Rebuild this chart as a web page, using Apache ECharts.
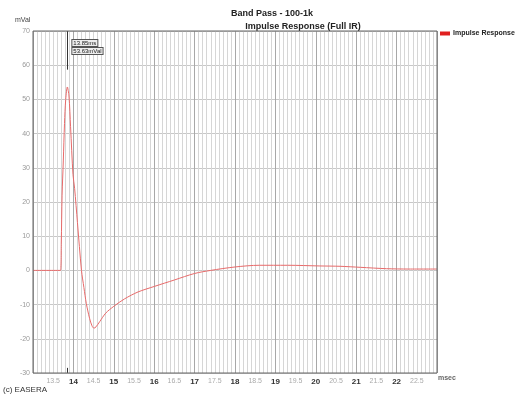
<!DOCTYPE html>
<html><head><meta charset="utf-8">
<script src="https://cdn.jsdelivr.net/npm/echarts@6/dist/echarts.min.js"></script>
<style>html,body{margin:0;padding:0;background:#fff}#c{width:519px;height:399px}</style>
</head><body><div id="c"></div>
<script>
const timeMs = [13.0,13.68,13.70,13.72,13.75,13.78,13.81,13.85,13.89,13.93,13.99,14.03,14.10,14.20,14.26,14.32,14.40,14.46,14.51,14.56,14.65,14.80,15.0,15.27,15.6,16.0,16.5,17.0,17.4,18.0,18.6,19.3,20.1,20.6,21.1,21.75,22.3,23.0];
const impulse = [0,0,8,22,32,43,50,53.63,51,42,28,24,14,0,-5,-9.7,-14,-16.2,-16.9,-16.5,-15,-12.5,-10.5,-8.3,-6.3,-4.7,-2.8,-0.9,0,1.0,1.5,1.5,1.3,1.2,0.9,0.5,0.4,0.4];
const markerTime = 13.85;
const markerValue = 53.63;
const markerLabels = ['13.85ms', '53.63mVal'];
const titleText = 'Band Pass - 100-1k';
const subtitleText = 'Impulse Response (Full IR)';
const seriesName = 'Impulse Response';

const chart = echarts.init(document.getElementById('c'), null, {renderer:'canvas'});
const fontFam = 'Liberation Sans, Arial, sans-serif';
chart.setOption({
  animation:false,
  backgroundColor:'#fff',
  textStyle:{fontFamily:fontFam},
  title:[
    {text:titleText, left:267, top:4, textAlign:'center', textStyle:{fontSize:9, fontWeight:'bold', color:'#222', fontFamily:fontFam}},
    {text:subtitleText, left:298, top:17, textAlign:'center', textStyle:{fontSize:9, fontWeight:'bold', color:'#222', fontFamily:fontFam}}
  ],
  legend:{
    data:[{name:seriesName, icon:'rect'}],
    left:440, top:28, itemWidth:10, itemHeight:4, itemGap:3, padding:[2,0,2,0],
    textStyle:{fontSize:7, fontWeight:'bold', color:'#222', padding:[0,0,0,-2]}
  },
  grid:{left:33, top:31, width:404, height:342, containLabel:false},
  xAxis:{
    type:'value', min:13, max:23, interval:0.5,
    axisLine:{show:false},
    axisTick:{show:false},
    minorTick:{show:false, splitNumber:5},
    minorSplitLine:{show:true, lineStyle:{color:'#d6d6d6', width:1}},
    splitLine:{show:true, lineStyle:{color:['#a8a8a8','#d6d6d6'], width:1}},
    axisLabel:{
      showMinLabel:false, showMaxLabel:false, margin:5,
      formatter:function(v){ return (Math.abs(v-Math.round(v))<1e-6) ? '{b|'+v+'}' : '{h|'+v+'}'; },
      rich:{b:{fontSize:8, fontWeight:'bold', color:'#333'}, h:{fontSize:7, color:'#aaa'}}
    }
  },
  yAxis:{
    type:'value', min:-30, max:70, interval:10,
    axisLine:{show:false}, axisTick:{show:false},
    splitLine:{show:true, lineStyle:{color:'#c8c8c8', width:1}},
    axisLabel:{fontSize:7, color:'#999', margin:3}
  },
  graphic:[
    {type:'rect', shape:{x:33, y:31, width:404, height:342}, style:{fill:'none', stroke:'#666', lineWidth:1}, z:10},
    {type:'text', left:15, top:17, style:{text:'mVal', fontSize:7, fill:'#444', fontFamily:fontFam}},
    {type:'text', left:438, top:375, style:{text:'msec', fontSize:7, fontWeight:'bold', fill:'#666', fontFamily:fontFam}},
    {type:'text', left:3, top:386, style:{text:'(c) EASERA', fontSize:8, fill:'#333', fontFamily:fontFam}}
  ],
  series:[{
    name:seriesName, type:'line', data:timeMs.map((t,i)=>[t,impulse[i]]),
    smooth:0.3, showSymbol:false, symbol:'none',
    color:'#e02020',
    lineStyle:{color:'#e86a6a', width:1},
    markLine:{
      silent:true, symbol:'none', label:{show:false},
      lineStyle:{color:'#333', width:1, type:'solid'},
      data:[
        [{coord:[markerTime,70]},{coord:[markerTime,58.7]}],
        [{coord:[markerTime,-30]},{coord:[markerTime,-28.5]}]
      ]
    },
    markPoint:{
      silent:true, symbol:'circle', symbolSize:0,
      data:[{coord:[markerTime,70], value:markerValue}],
      label:{
        show:true, position:'insideTopLeft', offset:[0,3],
        formatter:'{a|'+markerLabels[0]+'}\n{b|'+markerLabels[1]+'}',
        rich:{
          a:{fontSize:6, color:'#222', borderColor:'#555', borderWidth:1, padding:[0,1], backgroundColor:'#eee', lineHeight:8},
          b:{fontSize:6, color:'#222', borderColor:'#555', borderWidth:1, padding:[0,1], backgroundColor:'#eee', lineHeight:8}
        }
      }
    }
  }]
});
</script></body></html>
